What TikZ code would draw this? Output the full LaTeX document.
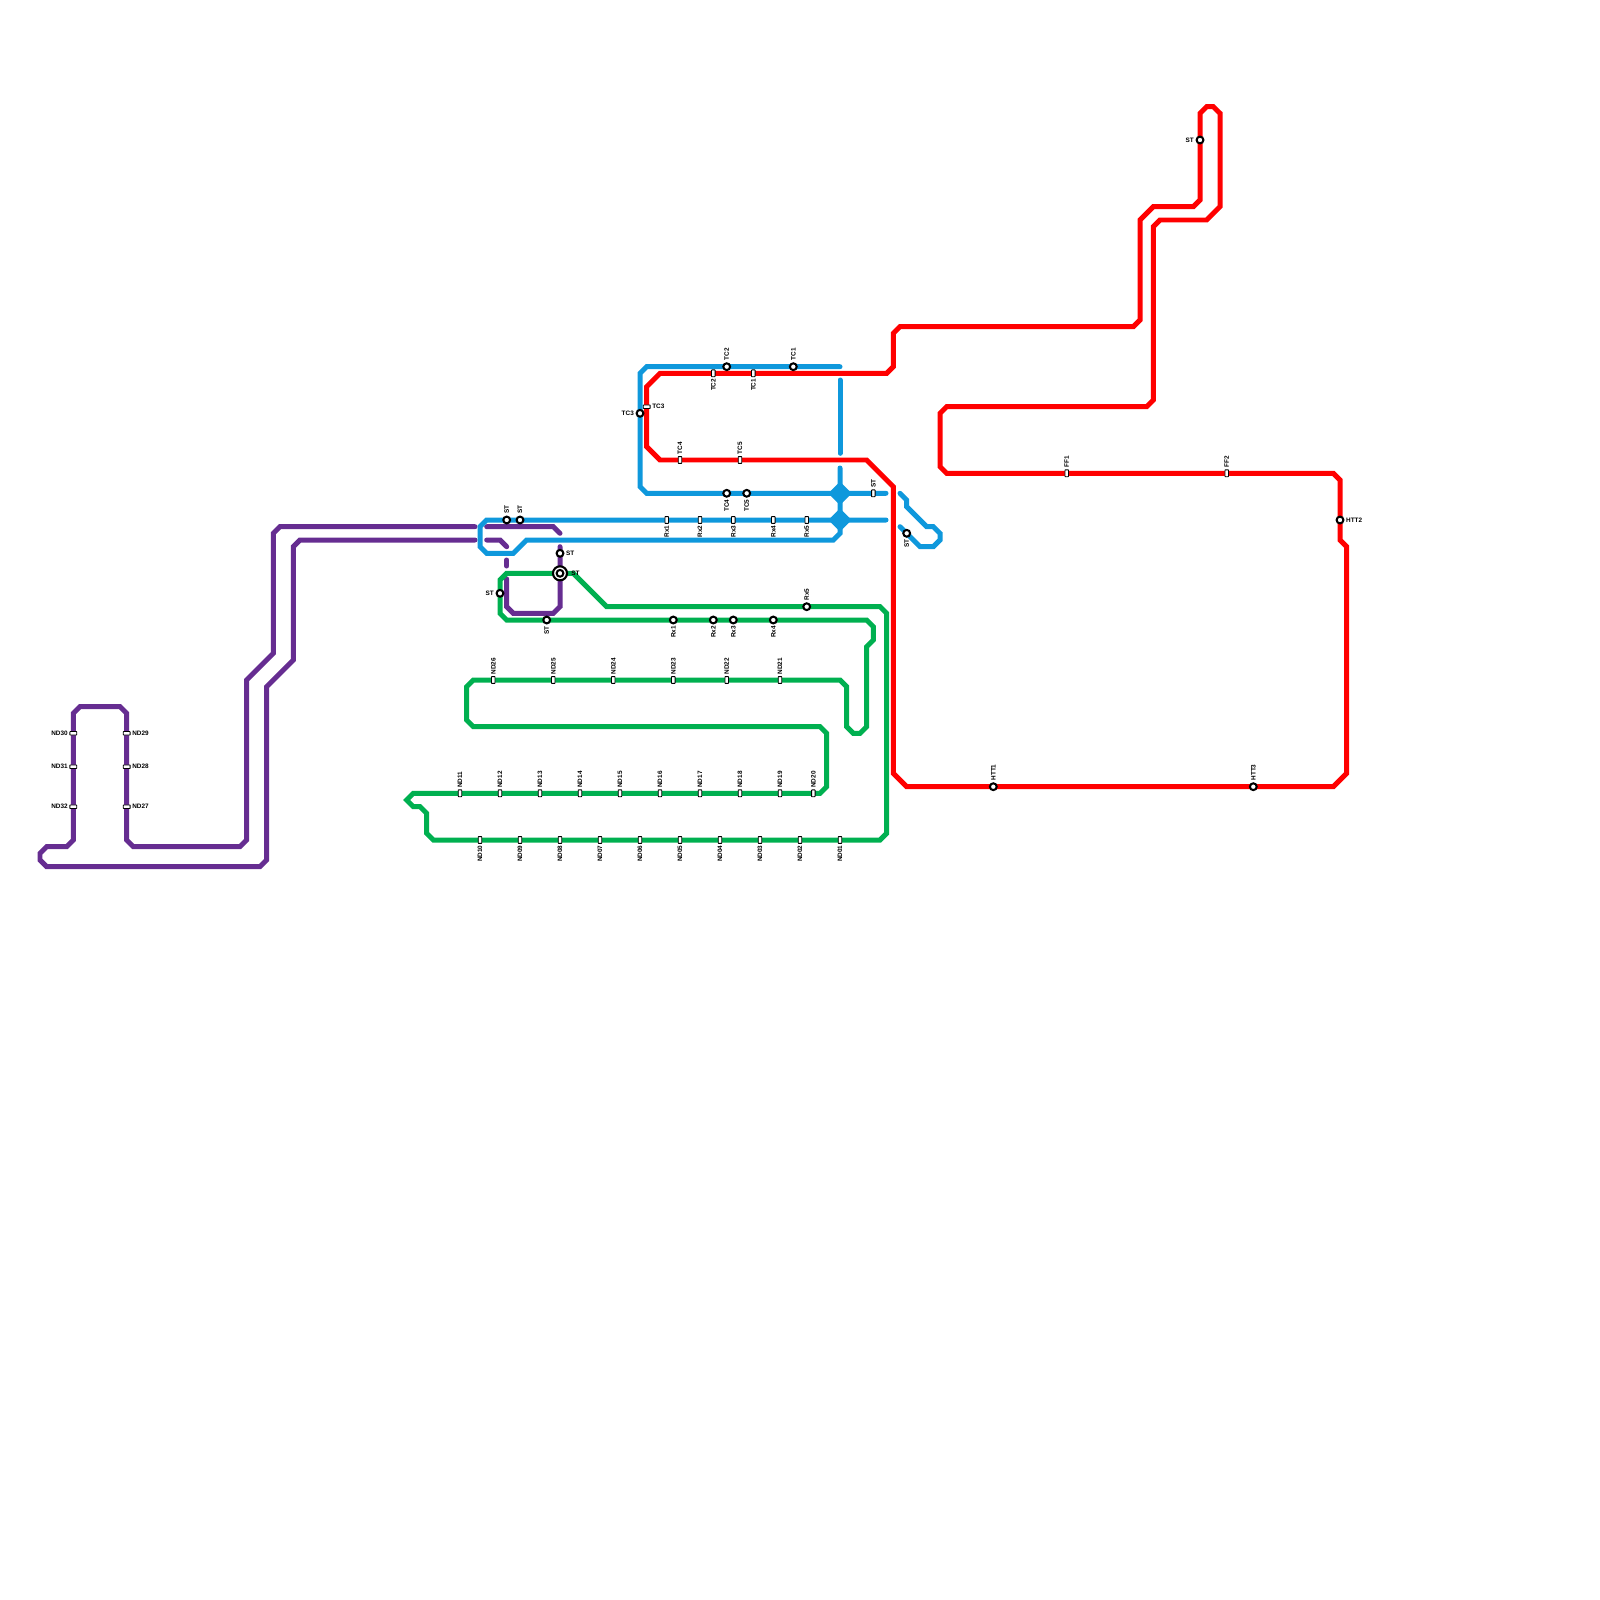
\documentclass[tikz,border=0pt]{standalone}
\usepackage{fontspec}
\setmainfont{Liberation Sans}
\usetikzlibrary{shapes.geometric}
\definecolor{linepurple}{HTML}{662D91}
\definecolor{lineblue}{HTML}{0F98DC}
\definecolor{linegreen}{HTML}{00B050}
\definecolor{linered}{HTML}{FF0000}

\begin{document}
\begin{tikzpicture}[
            x=0.01cm, y=-0.01cm,
            route/.style={line width=1.42pt, line cap=round},
            stop/.style={circle, draw=black, fill=white, line width=0.58pt, minimum size=0.068cm, inner sep=0pt},
            pillv/.style={rectangle, rounded corners=0.12pt, draw=black, fill=white, line width=0.25pt, minimum width=0.035cm, minimum height=0.068cm, inner sep=0pt},
            pillh/.style={rectangle, rounded corners=0.12pt, draw=black, fill=white, line width=0.25pt, minimum width=0.068cm, minimum height=0.035cm, inner sep=0pt},
            hub/.style={diamond, fill=lineblue, minimum size=0.24cm, inner sep=0pt},
            lbl/.style={font=\bfseries\fontsize{1.82pt}{2pt}\selectfont, inner sep=0.3pt, text=black},
            lblup/.style={label={[lbl,rotate=90,anchor=west]90:#1}},
            lbldown/.style={label={[lbl,rotate=90,anchor=east]-90:#1}},
            lblleft/.style={label={[lbl,anchor=east]180:#1}},
            lblright/.style={label={[lbl,anchor=west]0:#1}}
        ]
        \useasboundingbox (0,0) rectangle (1600,1600);

        % purple line
        \draw[route, linepurple] (475,526.7) -- (280,526.7) -- (273.3,533.3) -- (273.3,653.3) -- (246.7,680) -- (246.7,840) -- (240,846.7) -- (133.3,846.7) -- (126.7,840) -- (126.7,713.3) -- (120,706.7) -- (80,706.7) -- (73.3,713.3) -- (73.3,840) -- (66.7,846.7) -- (46.7,846.7) -- (40,853.3) -- (40,860) -- (46.7,866.7) -- (260,866.7) -- (266.7,860) -- (266.7,686.7) -- (293.3,660) -- (293.3,546.7) -- (300,540) -- (475,540);
        \draw[route, linepurple] (486.7,526.7) -- (553.3,526.7) -- (560,533.3);
        \draw[route, linepurple] (486.7,540) -- (500,540) -- (506.7,546.7);
        \draw[route, linepurple] (506.7,560) -- (506.7,566);
        \draw[route, linepurple] (506.7,579) -- (506.7,606.7) -- (513.3,613.3) -- (553.3,613.3) -- (560,606.7) -- (560,546.7);

        % green line
        \draw[route, linegreen] (560,573.3) -- (506.7,573.3) -- (500,580) -- (500,613.3) -- (506.7,620) -- (866.7,620) -- (873.3,626.7) -- (873.3,640) -- (866.7,646.7) -- (866.7,726.7) -- (860,733.3) -- (853.3,733.3) -- (846.7,726.7) -- (846.7,686.7) -- (840,680) -- (473.3,680) -- (466.7,686.7) -- (466.7,720) -- (473.3,726.7) -- (820,726.7) -- (826.7,733.3) -- (826.7,786.7) -- (820,793.3) -- (413.3,793.3) -- (406.7,800) -- (413.3,806.7) -- (420,806.7) -- (426.7,813.3) -- (426.7,833.3) -- (433.3,840) -- (880,840) -- (886.7,833.3) -- (886.7,613.3) -- (880,606.7) -- (606.7,606.7) -- (573.3,573.3) -- (560,573.3);

        % blue line
        \draw[route, lineblue] (840,366.7) -- (646.7,366.7) -- (640,373.3) -- (640,486.7) -- (646.7,493.3) -- (886,493.3);
        \draw[route, lineblue] (840,380) -- (840,453.3);
        \draw[route, lineblue] (840,468) -- (840,533.3) -- (833.3,540) -- (526.7,540) -- (513.3,553.3) -- (486.7,553.3) -- (480,546.7) -- (480,526.7) -- (486.7,520) -- (886,520);
        \draw[route, lineblue] (900,493.3) -- (906.7,500) -- (906.7,506.7) -- (926.7,526.7) -- (933.3,526.7) -- (940,533.3) -- (940,540) -- (933.3,546.7) -- (920,546.7) -- (900,526.7);
        \node[hub] (hubtop) at (840,493.3) {};
        \node[hub] (hubbot) at (840,520) {};

        % red line
        \draw[route, linered, line join=miter] (893.3,366.7) -- (886.7,373.3) -- (660,373.3) -- (646.7,386.7) -- (646.7,446.7) -- (660,460) -- (866.7,460) -- (893.3,486.7) -- (893.3,773.3) -- (906.7,786.7) -- (1333.3,786.7) -- (1346.7,773.3) -- (1346.7,546.7) -- (1340,540) -- (1340,480) -- (1333.3,473.3) -- (946.7,473.3) -- (940,466.7) -- (940,413.3) -- (946.7,406.7) -- (1146.7,406.7) -- (1153.3,400) -- (1153.3,226.7) -- (1160,220) -- (1206.7,220) -- (1220,206.7) -- (1220,113.3) -- (1213.3,106.7) -- (1206.7,106.7) -- (1200,113.3) -- (1200,200) -- (1193.3,206.7) -- (1153.3,206.7) -- (1140,220) -- (1140,320) -- (1133.3,326.7) -- (900,326.7) -- (893.3,333.3) -- cycle;

        % ring stops
        \node[stop, lblup=ST] (st1) at (506.7,520) {};
        \node[stop, lblup=ST] (st2) at (520,520) {};
        \node[stop, lblright=ST] (st3) at (560,553.3) {};
        \node[stop, lblleft=ST] (st4) at (500,593.3) {};
        \node[stop, lbldown=ST] (st5) at (546.7,620) {};
        \node[stop, lbldown=ST] (st6) at (906.7,533.3) {};
        \node[stop, lblleft=ST] (st7) at (1200,140) {};
        \node[circle, draw=black, fill=white, line width=0.6pt, minimum size=0.14cm, inner sep=0pt] (icouter) at (560,573.3) {};
        \node[stop] (icinner) at (560,573.3) {};
        \node[lbl, anchor=west] (iclabel) at (569.5,573.3) {ST};

        \node[stop, lblup=TC2] (tc2a) at (726.7,366.7) {};
        \node[stop, lblup=TC1] (tc1a) at (793.3,366.7) {};
        \node[stop, lblleft=TC3] (tc3a) at (640,413.3) {};
        \node[stop, lbldown=TC4] (tc4a) at (726.7,493.3) {};
        \node[stop, lbldown=TC5] (tc5a) at (746.7,493.3) {};

        \node[stop, lbldown=Rx1] (rx1a) at (673.3,620) {};
        \node[stop, lbldown=Rx2] (rx2a) at (713.3,620) {};
        \node[stop, lbldown=Rx3] (rx3a) at (733.3,620) {};
        \node[stop, lbldown=Rx4] (rx4a) at (773.3,620) {};
        \node[stop, lblup=Rx5] (rx5a) at (806.7,606.7) {};

        \node[stop, lblup=HTT1] (htt1) at (993.3,786.7) {};
        \node[stop, lblright=HTT2] (htt2) at (1340,520) {};
        \node[stop, lblup=HTT3] (htt3) at (1253.3,786.7) {};

        % pill stops
        \node[pillv, lbldown=TC2] (tc2b) at (713.3,373.3) {};
        \node[pillv, lbldown=TC1] (tc1b) at (753.3,373.3) {};
        \node[pillh, lblright=TC3] (tc3b) at (646.7,406.7) {};
        \node[pillv, lblup=TC4] (tc4b) at (680,460) {};
        \node[pillv, lblup=TC5] (tc5b) at (740,460) {};
        \node[pillv, lblup=ST] (st8) at (873.3,493.3) {};
        \node[pillv, lblup=FF1] (ff1) at (1066.7,473.3) {};
        \node[pillv, lblup=FF2] (ff2) at (1226.7,473.3) {};

        \foreach \n/\xpos in {1/666.7,2/700,3/733.3,4/773.3,5/806.7}
            \node[pillv, lbldown=Rx\n] (rx\n b) at (\xpos,520) {};

        \foreach \n/\xpos in {01/840,02/800,03/760,04/720,05/680,06/640,07/600,08/560,09/520,10/480}
            \node[pillv, lbldown=ND\n] (nd\n) at (\xpos,840) {};
        \foreach \n/\xpos in {11/460,12/500,13/540,14/580,15/620,16/660,17/700,18/740,19/780,20/813.3}
            \node[pillv, lblup=ND\n] (nd\n) at (\xpos,793.3) {};
        \foreach \n/\xpos in {21/780,22/726.7,23/673.3,24/613.3,25/553.3,26/493.3}
            \node[pillv, lblup=ND\n] (nd\n) at (\xpos,680) {};
        \foreach \n/\ypos in {27/806.7,28/766.7,29/733.3}
            \node[pillh, lblright=ND\n] (nd\n) at (126.7,\ypos) {};
        \foreach \n/\ypos in {30/733.3,31/766.7,32/806.7}
            \node[pillh, lblleft=ND\n] (nd\n) at (73.3,\ypos) {};

    \end{tikzpicture}
\end{document}
